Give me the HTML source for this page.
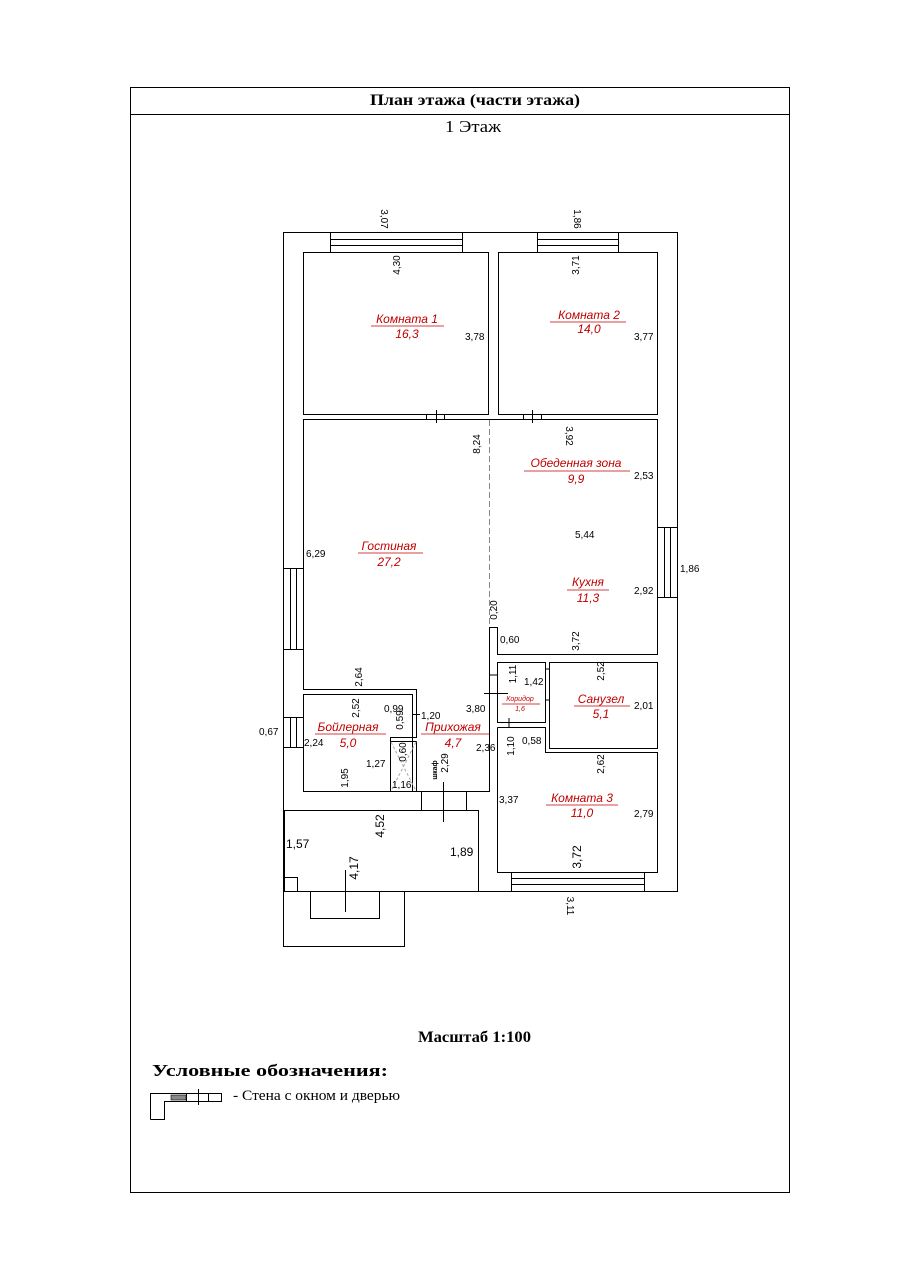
<!DOCTYPE html>
<html><head><meta charset="utf-8"><style>
html,body{margin:0;padding:0;background:#fff}
svg{display:block}
.t{font-family:"Liberation Sans",Arial,sans-serif;font-size:10px;fill:#000}
.r{font-family:"Liberation Sans",Arial,sans-serif;font-size:12px;fill:#c00000;font-style:italic}
.s{font-family:"Liberation Serif",serif;fill:#000}
</style></head><body>
<svg width="905" height="1280" viewBox="0 0 905 1280" xmlns="http://www.w3.org/2000/svg">
<g fill="none" stroke="#000" stroke-width="1">
<rect x="130.5" y="87.5" width="659" height="1105"/>
<line x1="130" y1="114.5" x2="789" y2="114.5"/>
<polyline points="404.5,891.5 677.5,891.5 677.5,232.5 283.5,232.5 283.5,891.5"/>
<rect x="283.5" y="891.5" width="121" height="55"/>
<polyline points="310.5,891.5 310.5,918.5 379.5,918.5 379.5,891.5"/>
<line x1="345.5" y1="870" x2="345.5" y2="912"/>
<rect x="330.5" y="232.5" width="132" height="20"/>
<line x1="330" y1="239.5" x2="462" y2="239.5"/><line x1="330" y1="245.5" x2="462" y2="245.5"/>
<rect x="537.5" y="232.5" width="81" height="20"/>
<line x1="537" y1="239.5" x2="618" y2="239.5"/><line x1="537" y1="245.5" x2="618" y2="245.5"/>
<rect x="657.5" y="527.5" width="20" height="70"/>
<line x1="664.5" y1="527" x2="664.5" y2="597"/><line x1="670.5" y1="527" x2="670.5" y2="597"/>
<rect x="283.5" y="568.5" width="20" height="81"/>
<line x1="290.5" y1="568" x2="290.5" y2="649"/><line x1="296.5" y1="568" x2="296.5" y2="649"/>
<rect x="283.5" y="717.5" width="20" height="30"/>
<line x1="290.5" y1="717" x2="290.5" y2="747"/><line x1="296.5" y1="717" x2="296.5" y2="747"/>
<rect x="511.5" y="872.5" width="133" height="19"/>
<line x1="511" y1="878.5" x2="644" y2="878.5"/><line x1="511" y1="884.5" x2="644" y2="884.5"/>
<rect x="303.5" y="252.5" width="185" height="162"/>
<rect x="498.5" y="252.5" width="159" height="162"/>
<line x1="426.5" y1="414" x2="426.5" y2="419"/><line x1="444.5" y1="414" x2="444.5" y2="419"/><line x1="436.5" y1="410" x2="436.5" y2="423"/>
<line x1="523.5" y1="414" x2="523.5" y2="419"/><line x1="541.5" y1="414" x2="541.5" y2="419"/><line x1="532.5" y1="410" x2="532.5" y2="423"/>
<polyline points="489.5,419.5 303.5,419.5 303.5,689.5 416.5,689.5 416.5,737.5 390.5,737.5 390.5,791.5 489.5,791.5 489.5,627.5 497.5,627.5 497.5,654.5 657.5,654.5 657.5,419.5 489.5,419.5"/>
<line x1="489.5" y1="420" x2="489.5" y2="627" stroke-dasharray="6,3" stroke="#888"/>
<rect x="303.5" y="694.5" width="109" height="97"/>
<line x1="412.5" y1="700" x2="412.5" y2="730"/>
<line x1="390.5" y1="741.5" x2="416.5" y2="741.5"/>
<line x1="416.5" y1="741.5" x2="416.5" y2="791.5"/>
<line x1="391" y1="742" x2="416" y2="791" stroke="#aaa" stroke-dasharray="3,2"/>
<line x1="416" y1="742" x2="391" y2="791" stroke="#aaa" stroke-dasharray="3,2"/>
<line x1="412" y1="714.5" x2="420" y2="714.5"/>
<rect x="497.5" y="662.5" width="48" height="60"/>
<line x1="484" y1="693.5" x2="508" y2="693.5"/><line x1="489.5" y1="675" x2="497.5" y2="675"/>
<line x1="509" y1="718" x2="509" y2="727"/>
<rect x="549.5" y="662.5" width="108" height="86"/>
<line x1="545" y1="669" x2="549" y2="669"/><line x1="545" y1="700" x2="549" y2="700"/>
<polyline points="497.5,727.5 545.5,727.5 545.5,752.5 657.5,752.5 657.5,872.5 497.5,872.5 497.5,727.5"/>
<rect x="284.5" y="810.5" width="194" height="81"/>
<rect x="284.5" y="877.5" width="13" height="14"/>
<line x1="421.5" y1="791" x2="421.5" y2="810"/><line x1="466.5" y1="791" x2="466.5" y2="810"/>
<line x1="443.5" y1="782" x2="443.5" y2="822"/>
<polyline points="150.5,1119.5 150.5,1093.5 221.5,1093.5 221.5,1101.5 164.5,1101.5 164.5,1119.5 150.5,1119.5"/>
<rect x="171" y="1095" width="15" height="5" fill="#888" stroke="#000" stroke-width="0.6"/>
<line x1="186.5" y1="1093" x2="186.5" y2="1101"/><line x1="208.5" y1="1093" x2="208.5" y2="1101"/><line x1="198.5" y1="1089" x2="198.5" y2="1105"/>
</g>
<g stroke="#c00000" stroke-width="0.8">
<line x1="371" y1="326" x2="444" y2="326"/><line x1="550" y1="322" x2="626" y2="322"/>
<line x1="524" y1="471" x2="630" y2="471"/><line x1="567" y1="590" x2="609" y2="590"/>
<line x1="358" y1="553" x2="423" y2="553"/><line x1="315" y1="734" x2="386" y2="734"/>
<line x1="421" y1="734" x2="489" y2="734"/><line x1="502" y1="704" x2="540" y2="704"/>
<line x1="574" y1="706" x2="630" y2="706"/><line x1="546" y1="805" x2="618" y2="805"/>
</g>
<text class="s" x="370" y="105" font-size="16" font-weight="bold" textLength="210" lengthAdjust="spacingAndGlyphs">План этажа (части этажа)</text>
<text class="s" x="445" y="132" font-size="17" textLength="56" lengthAdjust="spacingAndGlyphs">1 Этаж</text>
<text class="s" x="418" y="1042" font-size="16" font-weight="bold" textLength="113" lengthAdjust="spacingAndGlyphs">Масштаб 1:100</text>
<text class="s" x="152" y="1076" font-size="17" font-weight="bold" textLength="236" lengthAdjust="spacingAndGlyphs">Условные обозначения:</text>
<text class="s" x="233" y="1100" font-size="15" textLength="167" lengthAdjust="spacingAndGlyphs">- Стена с окном и дверью</text>
<g class="r" text-anchor="middle">
<text x="407" y="323">Комната 1</text><text x="407" y="338">16,3</text>
<text x="589" y="319">Комната 2</text><text x="589" y="333">14,0</text>
<text x="576" y="467">Обеденная зона</text><text x="576" y="483">9,9</text>
<text x="588" y="586">Кухня</text><text x="588" y="602">11,3</text>
<text x="389" y="550">Гостиная</text><text x="389" y="566">27,2</text>
<text x="348" y="731">Бойлерная</text><text x="348" y="747">5,0</text>
<text x="453" y="731">Прихожая</text><text x="453" y="747">4,7</text>
<text x="520" y="701" font-size="7">Коридор</text><text x="520" y="711" font-size="7">1,6</text>
<text x="601" y="703">Санузел</text><text x="601" y="718">5,1</text>
<text x="582" y="802">Комната 3</text><text x="582" y="817">11,0</text>
</g>
<g class="t">
<text x="465" y="340">3,78</text><text x="634" y="340">3,77</text>
<text x="634" y="479">2,53</text><text x="575" y="538">5,44</text>
<text x="634" y="594">2,92</text><text x="680" y="572">1,86</text>
<text x="500" y="643">0,60</text><text x="306" y="557">6,29</text>
<text x="259" y="735">0,67</text><text x="304" y="746">2,24</text>
<text x="384" y="712">0,99</text><text x="421" y="719">1,20</text>
<text x="366" y="767">1,27</text><text x="392" y="788">1,16</text>
<text x="466" y="712">3,80</text><text x="476" y="751">2,36</text>
<text x="524" y="685">1,42</text><text x="522" y="744">0,58</text>
<text x="634" y="709">2,01</text><text x="499" y="803">3,37</text>
<text x="634" y="817">2,79</text>
<text x="286" y="848" font-size="12">1,57</text><text x="450" y="856" font-size="12">1,89</text>
</g>
<g class="t" text-anchor="middle">
<text transform="translate(381,219) rotate(90)">3,07</text>
<text transform="translate(574,219) rotate(90)">1,86</text>
<text transform="translate(566,436) rotate(90)">3,92</text>
<text transform="translate(567,906) rotate(90)">3,11</text>
<text transform="translate(400,265) rotate(-90)">4,30</text>
<text transform="translate(579,265) rotate(-90)">3,71</text>
<text transform="translate(480,444) rotate(-90)">8,24</text>
<text transform="translate(497,610) rotate(-90)">0,20</text>
<text transform="translate(579,641) rotate(-90)">3,72</text>
<text transform="translate(362,677) rotate(-90)">2,64</text>
<text transform="translate(359,708) rotate(-90)">2,52</text>
<text transform="translate(403,720) rotate(-90)">0,59</text>
<text transform="translate(406,752) rotate(-90)">0,60</text>
<text transform="translate(437,770) rotate(-90)" font-size="7" font-weight="bold">шкаф</text>
<text transform="translate(448,763) rotate(-90)">2,29</text>
<text transform="translate(348,778) rotate(-90)">1,95</text>
<text transform="translate(516,674) rotate(-90)">1,11</text>
<text transform="translate(514,746) rotate(-90)">1,10</text>
<text transform="translate(604,671) rotate(-90)">2,52</text>
<text transform="translate(604,764) rotate(-90)">2,62</text>
<text transform="translate(581,857) rotate(-90)" font-size="12">3,72</text>
<text transform="translate(384,826) rotate(-90)" font-size="12">4,52</text>
<text transform="translate(358,868) rotate(-90)" font-size="12">4,17</text>
</g>
</svg>
</body></html>
